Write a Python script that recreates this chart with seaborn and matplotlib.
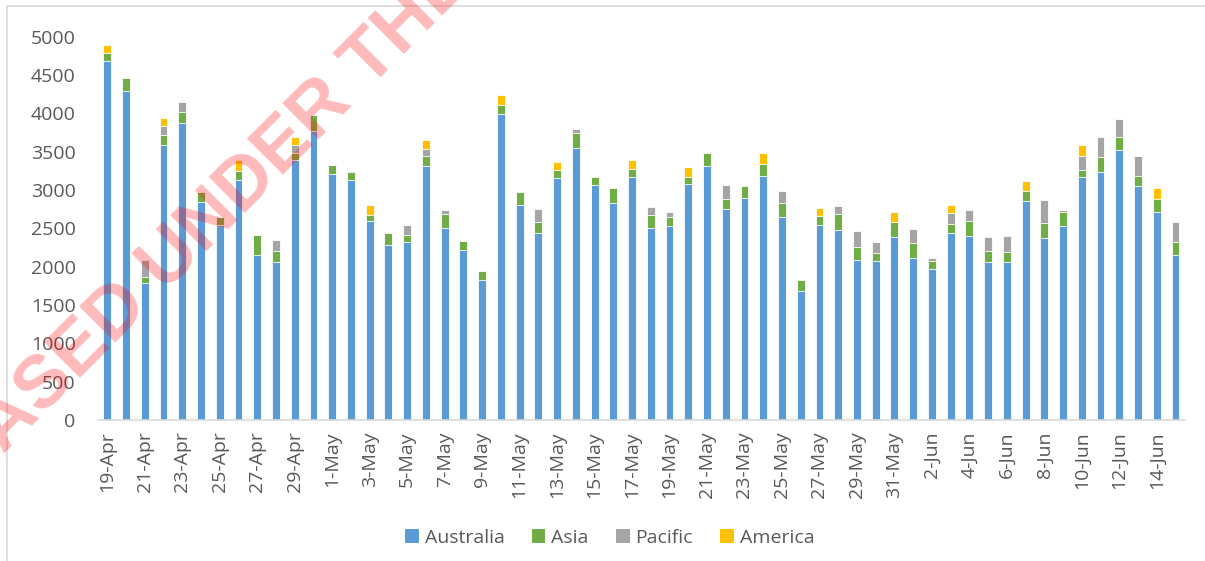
import pandas as pd
import matplotlib
matplotlib.use("Agg")
import matplotlib.pyplot as plt
from matplotlib.patches import Patch, Rectangle
import seaborn as sns

# categories: one bar per day, 19-Apr to 15-Jun
dates = pd.date_range("2020-04-19", "2020-06-15", freq="D")
day_labels = [f"{d.day}-{d.strftime('%b')}" for d in dates]

australia = [4680, 4290, 1790, 3590, 3875, 2840, 2550, 3135, 2150, 2065, 3390, 3775,
             3210, 3135, 2595, 2285, 2320, 3315, 2510, 2225, 1825, 3995, 2810, 2445,
             3155, 3555, 3065, 2835, 3175, 2510, 2535, 3080, 3315, 2755, 2900, 3180,
             2650, 1680, 2545, 2475, 2090, 2080, 2385,
             2120, 1965, 2445, 2405, 2065, 2065, 2855, 2375, 2530, 3170, 3240, 3520,
             3050, 2710, 2155]
asia = [110, 175, 75, 135, 150, 130, 100, 110, 265, 145, 100, 210,
        115, 105, 80, 150, 90, 125, 175, 115, 120, 110, 165, 140,
        105, 185, 110, 190, 95, 165, 120, 95, 165, 135, 150, 165,
        185, 145, 115, 210, 170, 100, 200,
        190, 110, 115, 190, 145, 125, 130, 200, 180, 90, 190, 170,
        130, 175, 170]
pacific = [0, 0, 225, 110, 125, 0, 0, 0, 0, 135, 95, 0,
           0, 0, 0, 0, 140, 95, 50, 0, 0, 0, 0, 175,
           0, 55, 0, 0, 0, 110, 60, 0, 20, 180, 0, 0,
           150, 0, 0, 110, 210, 140, 0,
           185, 45, 145, 140, 180, 210, 0, 290, 30, 180, 260, 235,
           260, 0, 255]
america = [110, 0, 0, 100, 0, 0, 0, 145, 0, 0, 110, 0,
           0, 0, 130, 0, 0, 115, 0, 0, 0, 130, 0, 0,
           110, 0, 0, 0, 125, 0, 0, 130, 0, 0, 0, 135,
           0, 0, 110, 0, 0, 0, 125,
           0, 0, 95, 0, 0, 0, 130, 0, 0, 145, 0, 0,
           10, 140, 5]

series = ["Australia", "Asia", "Pacific", "America"]
colors = ["#5B9BD5", "#70AD47", "#A5A5A5", "#FFC000"]
GREY = "#595959"


def main():
    df = pd.DataFrame({"day": day_labels, "Australia": australia, "Asia": asia,
                       "Pacific": pacific, "America": america})

    sns.set_theme(style="white")
    plt.rcParams["font.family"] = ["Open Sans", "DejaVu Sans"]

    fig = plt.figure(figsize=(12.05, 5.61), dpi=100)
    ax = fig.add_axes([0.0813, 0.2513, 0.902, 0.683])

    # stacked bars: draw running totals from the top series down
    cum = df[series].cumsum(axis=1)
    for name, color in reversed(list(zip(series, colors))):
        sns.barplot(x=df["day"], y=cum[name], color=color, saturation=1,
                    width=0.42, edgecolor="white", linewidth=0.6, ax=ax)

    ax.set_ylim(0, 5000)
    ax.set_xlim(-0.5, len(df) - 0.5)
    ax.set_yticks(range(0, 5001, 500))
    ax.set_xticks(range(0, len(df), 2))
    ax.set_xticklabels(day_labels[::2], rotation=90)
    ax.set_xlabel("")
    ax.set_ylabel("")

    for s in ["top", "right", "left"]:
        ax.spines[s].set_visible(False)
    ax.spines["bottom"].set_color("#D9D9D9")
    ax.spines["bottom"].set_linewidth(1.2)

    ax.tick_params(axis="y", length=0, pad=16, labelsize=14, labelcolor=GREY)
    ax.tick_params(axis="x", length=0, pad=8, labelsize=14, labelcolor=GREY)

    handles = [Patch(facecolor=c, edgecolor="none") for c in colors]
    fig.legend(handles, series, loc="center", bbox_to_anchor=(0.506, 0.041),
               ncol=4, frameon=False, handlelength=0.7, handleheight=0.7,
               handletextpad=0.3, columnspacing=1.4, fontsize=14, labelcolor=GREY)

    # chart area border
    fig.patches.append(Rectangle((7 / 1205, -0.1), 1.2, 1 - 6 / 561 + 0.1,
                                 transform=fig.transFigure, fill=False,
                                 edgecolor="#D9D9D9", linewidth=1.2))

    # watermark (runs off the canvas like in the source)
    fig.text(0.2216, 0.709, "RELEASED UNDER THE FOI ACT", rotation=45,
             ha="center", va="center", rotation_mode="anchor",
             fontsize=54, fontweight="bold", family=["Liberation Sans"],
             color="red", alpha=0.27, zorder=10)

    fig.savefig("out.png", dpi=100)


if __name__ == "__main__":
    main()
